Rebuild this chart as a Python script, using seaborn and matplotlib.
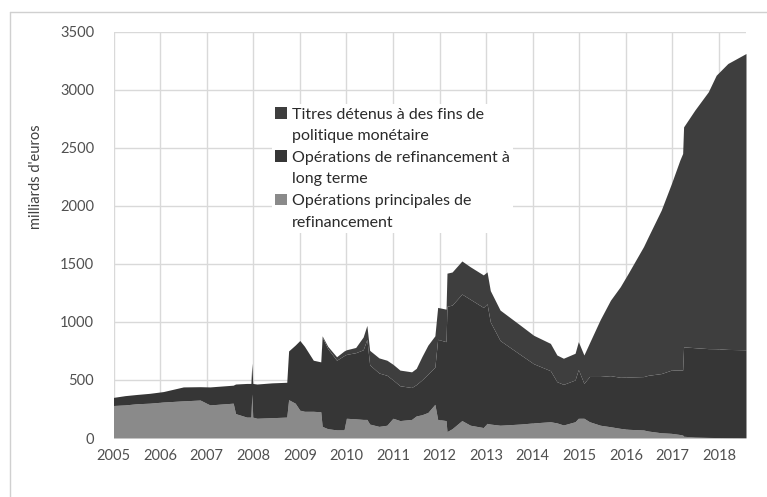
import numpy as np
import pandas as pd
import seaborn as sns
import matplotlib.pyplot as plt
from matplotlib.patches import Patch
from matplotlib.lines import Line2D

# dates en années décimales, valeurs en milliards d'euros
dates = [2005.00, 2005.25, 2005.50, 2005.78, 2006.07, 2006.50, 2006.86, 2007.07,
         2007.57, 2007.62, 2007.86, 2007.95, 2007.97, 2007.99, 2008.08, 2008.40,
         2008.72, 2008.76, 2008.90, 2009.00, 2009.10, 2009.29, 2009.45, 2009.48,
         2009.60, 2009.79, 2009.95, 2010.00, 2010.20, 2010.36, 2010.44, 2010.50,
         2010.70, 2010.87, 2011.00, 2011.15, 2011.40, 2011.50, 2011.62, 2011.75,
         2011.90, 2011.96, 2012.14, 2012.16, 2012.27, 2012.48, 2012.66, 2012.94,
         2013.02, 2013.09, 2013.30, 2013.73, 2014.02, 2014.38, 2014.52, 2014.66,
         2014.91, 2014.98, 2015.10, 2015.22, 2015.45, 2015.67, 2015.88, 2016.05,
         2016.38, 2016.48, 2016.76, 2016.98, 2017.16, 2017.22, 2017.24, 2017.48,
         2017.77, 2017.94, 2018.19, 2018.58]

mro = [280, 285, 295, 300, 310, 320, 327, 285,
       300, 210, 180, 180, 380, 180, 170, 175,
       180, 330, 300, 240, 230, 230, 226, 100,
       80, 70, 70, 170, 165, 160, 160, 120,
       100, 110, 170, 150, 160, 190, 200, 220,
       290, 160, 150, 55, 80, 150, 110, 90,
       126, 120, 110, 120, 130, 140, 130, 112,
       140, 170, 170, 140, 110, 97, 83, 75,
       69, 60, 45, 40, 30, 25, 15, 8,
       5, 4, 3, 2]

ltro = [70, 80, 80, 85, 90, 120, 115, 155,
        155, 255, 290, 290, 265, 290, 295, 300,
        300, 420, 500, 600, 560, 440, 430, 770,
        690, 600, 640, 550, 570, 600, 690, 510,
        460, 430, 330, 300, 275, 270, 300, 330,
        320, 690, 680, 1080, 1065, 1090, 1085, 1035,
        1030, 880, 730, 600, 510, 440, 355, 350,
        360, 420, 300, 390, 420, 440, 440, 450,
        460, 480, 510, 545, 555, 560, 770, 770,
        765, 765, 760, 758]

titres = [0, 0, 0, 0, 0, 0, 0, 0,
          0, 0, 0, 0, 0, 0, 0, 0,
          0, 0, 0, 0, 0, 0, 0, 10,
          20, 30, 40, 40, 45, 110, 120, 125,
          130, 130, 135, 135, 135, 140, 200, 250,
          270, 275, 280, 285, 285, 285, 280, 280,
          275, 270, 262, 253, 245, 235, 230, 225,
          230, 240, 245, 290, 490, 650, 780, 893,
          1120, 1193, 1408, 1608, 1809, 1866, 1895, 2046,
          2212, 2356, 2463, 2552]

labels = ["Titres détenus à des fins de\npolitique monétaire",
          "Opérations de refinancement à\nlong terme",
          "Opérations principales de\nrefinancement"]
years = list(range(2005, 2019))

sns.set_style("whitegrid")
plt.rcParams['font.family'] = ['Lato', 'DejaVu Sans']

df = pd.DataFrame({'date': dates, 'mro': mro, 'ltro': ltro, 'titres': titres})

col_mro = '#8a8a8a'
col_ltro = '#363636'
col_titres = '#3e3e3e'

fig = plt.figure(figsize=(7.67, 4.97), dpi=100)
ax = fig.add_axes([113.5/767, 1-438/497, (746-113.5)/767, (438-31.7)/497])

ax.stackplot(df['date'], df['mro'], df['ltro'], df['titres'],
             colors=[col_mro, col_ltro, col_titres], linewidth=0, zorder=2)

ax.set_xlim(2005, 2018.58)
ax.set_ylim(0, 3500)
ax.set_xticks(years)
ax.set_xticklabels([str(y) for y in years])
ax.set_yticks(np.arange(0, 3501, 500))
ax.grid(True, color='#d9d9d9', linewidth=1)
ax.set_axisbelow(True)
for s in ax.spines.values():
    s.set_visible(False)
ax.axhline(0, color='#d9d9d9', linewidth=1, zorder=1)
ax.tick_params(axis='both', length=0, labelsize=10.5, colors='#505050')
ax.tick_params(axis='x', pad=8)
ax.tick_params(axis='y', pad=14)

fig.text(36/767, 1-177/497, "milliards d'euros", rotation=90, ha='center', va='center',
         fontsize=10.5, color='#404040')

# légende : repère carré aligné sur la première ligne de chaque libellé
handles = []
leg_labels = []
for c, lab in zip([col_titres, col_ltro, col_mro], labels):
    l1, l2 = lab.split('\n')
    handles.append(Patch(facecolor=c, edgecolor='none'))
    leg_labels.append(l1)
    handles.append(Line2D([], [], linestyle='none'))
    leg_labels.append(l2)

leg = fig.legend(handles, leg_labels, loc='upper left', bbox_to_anchor=(272/767, 1-104/497),
                 frameon=True, fontsize=11.5, handlelength=0.75, handleheight=0.75,
                 handletextpad=0.3, labelspacing=0.45, borderpad=0.2, borderaxespad=0)
leg.get_frame().set_facecolor('white')
leg.get_frame().set_edgecolor('none')
leg.get_frame().set_alpha(1)
for t in leg.get_texts():
    t.set_color('#2a2a2a')

# cadre extérieur
fig.add_artist(Line2D([10/767, 10/767], [0, 1-12/497], color='#d0d0d0', linewidth=1))
fig.add_artist(Line2D([10/767, 1], [1-12/497, 1-12/497], color='#d0d0d0', linewidth=1))

fig.savefig('out.png', dpi=100)
